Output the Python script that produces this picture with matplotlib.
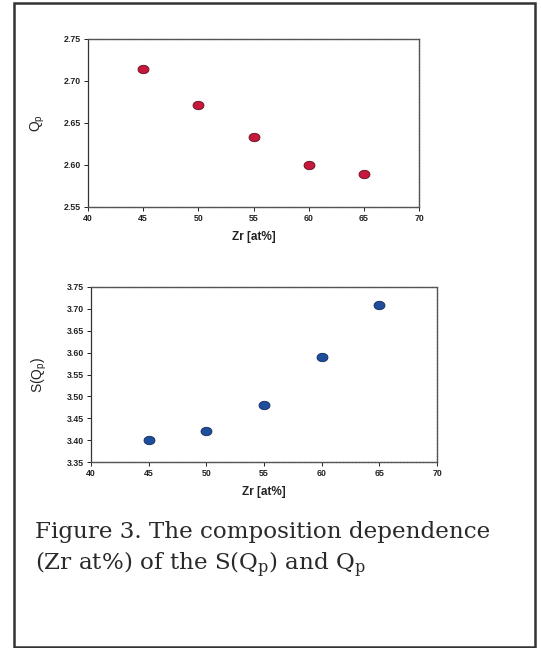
import matplotlib
matplotlib.use("Agg")
import matplotlib.pyplot as plt
from matplotlib.patches import Rectangle
from matplotlib.path import Path
from matplotlib.transforms import Affine2D

# Data
zr = [45, 50, 55, 60, 65]
qp = [2.714, 2.672, 2.633, 2.600, 2.589]
s_qp = [3.40, 3.42, 3.48, 3.59, 3.71]

x_ticks = [40, 45, 50, 55, 60, 65, 70]
qp_ticks = [2.55, 2.60, 2.65, 2.70, 2.75]
sq_ticks = [3.35, 3.40, 3.45, 3.50, 3.55, 3.60, 3.65, 3.70, 3.75]

caption_lines = ["Figure 3. The composition dependence",
                 r"(Zr at%) of the S(Q$_{\mathrm{p}}$) and Q$_{\mathrm{p}}$"]

plt.rcParams["font.family"] = ["Liberation Sans", "DejaVu Sans"]

W, H = 541, 648
fig = plt.figure(figsize=(W / 100, H / 100), dpi=100)
fig.patch.set_facecolor("white")


def px_axes(x0, y0, x1, y1):
    return fig.add_axes([x0 / W, 1 - y1 / H, (x1 - x0) / W, (y1 - y0) / H])


ellipse = Path.unit_circle().transformed(Affine2D().scale(1.3, 1.0))


def style(ax, yticks, ylim, ylabel, ylabel_x):
    ax.set_xlim(40, 70)
    ax.set_ylim(*ylim)
    ax.set_xticks(x_ticks)
    ax.set_yticks(yticks)
    ax.set_xticklabels([str(v) for v in x_ticks])
    ax.set_yticklabels([f"{v:.2f}" for v in yticks])
    ax.tick_params(axis="both", labelsize=6.3, colors="#222222", width=0.7,
                   length=3, direction="out", pad=2)
    for lab in ax.get_xticklabels() + ax.get_yticklabels():
        lab.set_fontweight("bold")
    for side in ["top", "right", "bottom"]:
        ax.spines[side].set_linestyle((0, (1.5, 0.8)))
        ax.spines[side].set_color("#555555")
        ax.spines[side].set_linewidth(1.0)
    ax.spines["left"].set_color("#333333")
    ax.spines["left"].set_linewidth(0.9)
    ax.set_xlabel("Zr [at%]", fontsize=8.5, fontweight="bold", color="#222222",
                  labelpad=6)
    ax.set_ylabel(ylabel, fontsize=10, color="#222222")
    ax.yaxis.set_label_coords(ylabel_x, 0.5)


ax1 = px_axes(88, 39, 419, 207)
ax1.scatter(zr, qp, marker=ellipse, s=62, color="#c8173c",
            edgecolors="#5a1020", linewidths=0.6, zorder=3)
style(ax1, qp_ticks, (2.55, 2.75), r"Q$_\mathregular{p}$", -0.125)

ax2 = px_axes(91, 287, 437, 462)
ax2.scatter(zr, s_qp, marker=ellipse, s=62, color="#1f4e9c",
            edgecolors="#0e2a5a", linewidths=0.6, zorder=3)
style(ax2, sq_ticks, (3.35, 3.75), r"S(Q$_\mathregular{p}$)", -0.12)

# Outer frame
fig.add_artist(Rectangle((14 / W, 1 - 647 / H), (535 - 14) / W, (647 - 3) / H,
                         transform=fig.transFigure, fill=False,
                         edgecolor="#333333", linewidth=1.8))

# Caption
for i, line in enumerate(caption_lines):
    fig.text(35 / W, 1 - (538 + 32 * i) / H, line, family="DejaVu Serif",
             math_fontfamily="dejavuserif", fontsize=16.6, color="#2a2a2a",
             va="baseline", ha="left")

fig.savefig("out.png", dpi=100)
